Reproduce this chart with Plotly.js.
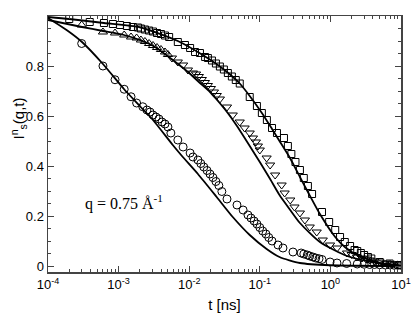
<!DOCTYPE html>
<html>
<head>
<meta charset="utf-8">
<script src="https://cdn.plot.ly/plotly-3.0.1.min.js"></script>
<style>
  body { margin: 0; background: #fff; }
  #plot { width: 415px; height: 321px; }
</style>
</head>
<body>
<div id="plot"></div>
<script>
// fast relaxation (circles) and its model curve
const tCirc = [3.0e-4, 6.0e-4, 8.9e-4, 1.2e-3, 1.5e-3, 1.8e-3, 2.2e-3,
  2.52e-3, 2.79e-3, 3.07e-3, 3.39e-3, 3.73e-3, 4.12e-3, 4.54e-3, 5.0e-3,
  5.5e-3, 6.9e-3, 8.2e-3, 1.03e-2, 1.13e-2,
  1.33e-2, 1.46e-2, 1.61e-2, 1.79e-2, 1.97e-2, 2.17e-2, 2.39e-2, 2.63e-2, 2.9e-2,
  3.43e-2, 4.75e-2, 5.8e-2, 6.8e-2,
  7.5e-2, 8.3e-2, 9.1e-2, 0.1, 0.11, 0.122, 0.134, 0.149,
  0.181, 0.213, 0.295,
  0.385, 0.42, 0.47, 0.51, 0.565, 0.62, 0.69, 0.76,
  0.99, 1.24, 1.7, 2.4, 3.0, 3.6, 4.2, 5.0, 6.0, 7.0, 8.0, 9.0, 10.0];
const yCirc = [0.89, 0.80, 0.745, 0.707, 0.677, 0.652, 0.637,
  0.624, 0.616, 0.604, 0.596, 0.588, 0.576, 0.568, 0.556,
  0.532, 0.504, 0.476, 0.452, 0.436,
  0.424, 0.41, 0.396, 0.382, 0.368, 0.354, 0.338, 0.322, 0.298,
  0.268, 0.244, 0.224, 0.204,
  0.192, 0.18, 0.168, 0.154, 0.14, 0.128, 0.114, 0.1,
  0.084, 0.072, 0.056,
  0.052, 0.048, 0.044, 0.04, 0.036, 0.032, 0.029, 0.026,
  0.016, 0.012, 0.01, 0.008, 0.007, 0.006, 0.006, 0.005, 0.004, 0.004, 0.003, 0.003, 0.003];
const tFitFast = [1e-4, 1.92e-4, 3.03e-4, 6.0e-4, 1.19e-3, 2.0e-3, 3.07e-3, 5.85e-3, 7.9e-3,
  1.33e-2, 2.45e-2, 4.14e-2, 7.2e-2, 0.125, 0.19, 0.37, 0.99, 10];
const yFitFast = [0.992, 0.94, 0.896, 0.808, 0.708, 0.64, 0.584, 0.484, 0.44,
  0.368, 0.276, 0.196, 0.124, 0.068, 0.036, 0.012, 0.003, 0.0];

// intermediate relaxation (triangles)
const tTriUp = [3.0e-4, 6.0e-4, 8.9e-4, 1.2e-3, 1.5e-3, 1.8e-3,
  2.07e-3, 2.36e-3, 2.7e-3, 3.07e-3, 3.5e-3, 3.98e-3, 4.54e-3, 5.0e-3];
const yTriUp = [0.964, 0.936, 0.932, 0.924, 0.916, 0.912,
  0.904, 0.898, 0.89, 0.882, 0.874, 0.866, 0.856, 0.846];
const tTriDn = [5.7e-3, 6.9e-3, 8.2e-3, 9.6e-3, 1.13e-2,
  1.25e-2, 1.37e-2, 1.51e-2, 1.67e-2, 1.84e-2, 2.03e-2, 2.24e-2, 2.46e-2, 2.72e-2,
  3.43e-2, 4.14e-2, 5.2e-2, 6.1e-2, 7.2e-2, 8.0e-2, 8.8e-2, 9.4e-2, 0.1,
  0.125, 0.14, 0.165, 0.204, 0.225, 0.27, 0.31, 0.37, 0.435, 0.51, 0.64, 0.78,
  0.99, 1.24, 1.72, 2.0, 2.38, 2.8, 3.2, 3.6, 4.2, 5.0, 6.3, 7.5, 9.0];
const yTriDn = [0.832, 0.816, 0.804, 0.784, 0.772,
  0.768, 0.758, 0.746, 0.734, 0.722, 0.71, 0.696, 0.682, 0.668,
  0.636, 0.604, 0.576, 0.552, 0.532, 0.512, 0.496, 0.48, 0.464,
  0.432, 0.404, 0.364, 0.324, 0.292, 0.264, 0.236, 0.212, 0.184, 0.156, 0.136, 0.104,
  0.084, 0.072, 0.052, 0.046, 0.036, 0.032, 0.028, 0.024, 0.02, 0.016, 0.012, 0.008, 0.004];
const tFitMid = [1e-4, 3.03e-4, 6.0e-4, 1.19e-3, 2.0e-3, 3.28e-3, 5.85e-3, 9.6e-3, 1.42e-2,
  1.97e-2, 2.45e-2, 3.43e-2, 4.75e-2, 7.2e-2, 0.1, 0.14, 0.19, 0.27, 0.37, 0.71, 1.72, 5.0, 10];
const yFitMid = [0.984, 0.956, 0.94, 0.924, 0.904, 0.876, 0.824, 0.776, 0.732,
  0.696, 0.666, 0.616, 0.56, 0.48, 0.416, 0.348, 0.284, 0.224, 0.172, 0.096, 0.04, 0.01, 0.0];

// slow relaxation (squares)
const tSq = [2.0e-4, 3.9e-4, 6.2e-4, 8.3e-4, 1.05e-3, 1.31e-3, 1.59e-3, 1.88e-3,
  2.07e-3, 2.36e-3, 2.7e-3, 3.07e-3, 3.5e-3, 3.98e-3, 4.54e-3, 5.2e-3,
  6.9e-3, 8.7e-3, 1.03e-2, 1.21e-2, 1.42e-2, 1.68e-2,
  1.84e-2, 2.1e-2, 2.39e-2, 2.72e-2, 3.1e-2, 3.53e-2, 4.02e-2, 4.57e-2, 5.2e-2,
  7.2e-2, 9.1e-2, 0.107, 0.126, 0.149, 0.175,
  0.22, 0.25, 0.28, 0.32, 0.37, 0.42, 0.48, 0.55,
  0.76, 0.96, 1.17, 1.37, 1.6, 1.9, 2.2, 2.4, 2.7, 3.0, 3.4, 3.8, 5.0, 6.9, 9.5];
const ySq = [0.988, 0.976, 0.972, 0.968, 0.964, 0.96, 0.956, 0.954,
  0.95, 0.946, 0.942, 0.938, 0.932, 0.928, 0.922, 0.916,
  0.896, 0.884, 0.872, 0.856, 0.852, 0.836,
  0.832, 0.822, 0.81, 0.798, 0.786, 0.772, 0.758, 0.744, 0.73,
  0.676, 0.64, 0.612, 0.584, 0.552, 0.532,
  0.512, 0.48, 0.448, 0.416, 0.384, 0.352, 0.32, 0.288,
  0.216, 0.176, 0.144, 0.116, 0.096, 0.08, 0.064, 0.06, 0.052, 0.044, 0.036, 0.03, 0.016, 0.01, 0.004];
const tFitSlow = [1e-4, 2e-4, 6.2e-4, 2.0e-3, 6.9e-3, 1.68e-2, 3.1e-2, 5.2e-2, 7.2e-2, 0.107,
  0.149, 0.19, 0.27, 0.37, 0.48, 0.71, 1.17, 1.6, 2.38, 5.0, 10];
const yFitSlow = [0.996, 0.988, 0.972, 0.955, 0.9, 0.838, 0.786, 0.73, 0.68, 0.612,
  0.548, 0.5, 0.43, 0.356, 0.296, 0.208, 0.116, 0.076, 0.044, 0.012, 0.002];

const xTickVals = [1e-4, 1e-3, 1e-2, 1e-1, 1, 10];
const xTickText = ['10<sup>-4</sup>', '10<sup>-3</sup>', '10<sup>-2</sup>',
  '10<sup>-1</sup>', '10<sup>0</sup>', '10<sup>1</sup>'];
const yTickVals = [0, 0.2, 0.4, 0.6, 0.8];
const yTickText = ['0', '0.2', '0.4', '0.6', '0.8'];

const sans = 'Liberation Sans, Arial, sans-serif';
const axisCol = '#444';

function markers(x, y, symbol, size) {
  return {
    type: 'scatter', mode: 'markers', x: x, y: y,
    marker: { symbol: symbol, size: size, color: '#000',
      line: { color: '#000', width: 1 } },
    hoverinfo: 'skip'
  };
}
function curve(x, y) {
  return {
    type: 'scatter', mode: 'lines', x: x, y: y,
    line: { color: '#000', width: 1.8, shape: 'spline', smoothing: 0.6 },
    hoverinfo: 'skip'
  };
}

const traces = [
  curve(tFitFast, yFitFast),
  curve(tFitMid, yFitMid),
  curve(tFitSlow, yFitSlow),
  markers(tCirc, yCirc, 'circle-open', 8),
  markers(tTriUp, yTriUp, 'triangle-up-open', 8),
  markers(tTriDn, yTriDn, 'triangle-down-open', 8),
  markers(tSq, ySq, 'square-open', 7)
];

const layout = {
  width: 415,
  height: 321,
  margin: { l: 48, r: 14, t: 16, b: 49 },
  paper_bgcolor: '#fff',
  plot_bgcolor: '#fff',
  showlegend: false,
  xaxis: {
    type: 'log',
    range: [-4, 1],
    tickmode: 'array',
    tickvals: xTickVals,
    ticktext: xTickText,
    ticks: 'inside',
    ticklen: 6,
    tickwidth: 1,
    tickcolor: axisCol,
    showline: true,
    linecolor: axisCol,
    linewidth: 1.5,
    mirror: 'ticks',
    showgrid: false,
    zeroline: false,
    tickfont: { family: sans, size: 13, color: '#000' },
    minor: { ticks: 'inside', ticklen: 3, dtick: 'D1', tickcolor: axisCol, showgrid: false },
    title: { text: 't [ns]', font: { family: sans, size: 15, color: '#000' }, standoff: 8 }
  },
  yaxis: {
    range: [-0.024, 1.0],
    tickmode: 'array',
    tickvals: yTickVals,
    ticktext: yTickText,
    ticks: 'inside',
    ticklen: 6,
    tickwidth: 1,
    tickcolor: axisCol,
    showline: true,
    linecolor: axisCol,
    linewidth: 1.5,
    mirror: 'ticks',
    showgrid: false,
    zeroline: false,
    tickfont: { family: sans, size: 13, color: '#000' },
    minor: { ticks: 'inside', ticklen: 3, dtick: 0.05, tick0: 0, tickcolor: axisCol, showgrid: false }
  },
  annotations: [
    {
      xref: 'paper', yref: 'paper', x: 0, y: 0.6, xshift: -30,
      xanchor: 'center', yanchor: 'middle', textangle: -90, showarrow: false,
      text: 'I<sup>n</sup><sub>s</sub>(q,t)',
      font: { family: sans, size: 15, color: '#000' }
    },
    {
      xref: 'paper', yref: 'paper', x: 0.099, y: 0.27,
      xanchor: 'left', yanchor: 'middle', showarrow: false,
      text: 'q = 0.75 Å<sup>-1</sup>',
      font: { family: 'Liberation Serif, Times New Roman, serif', size: 16, color: '#000' }
    }
  ]
};

Plotly.newPlot('plot', traces, layout, { displayModeBar: false, staticPlot: true });
</script>
</body>
</html>
